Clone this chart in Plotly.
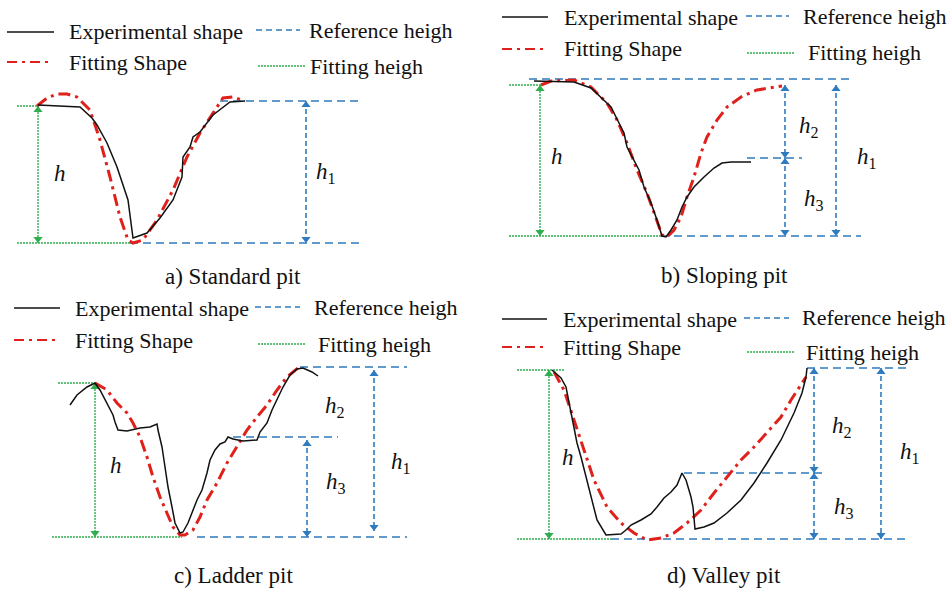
import plotly.graph_objects as go

W, H = 948, 591

# ---------------- data (local units: x along profile, y = height above pit bottom) -------------
# a) Standard pit
a_exp_x = [38, 60, 80, 92, 97, 107, 117, 128, 132, 133, 147, 160, 173, 182, 183, 190, 193, 200, 213, 220, 230, 245]
a_exp_y = [138, 137, 136, 125, 118, 100, 76, 43, 10, 5, 10, 25, 43, 66, 86, 96, 106, 111, 128, 133, 141, 142]
a_fit_x = [37, 47, 57, 67, 77, 90, 100, 110, 120, 128, 133, 143, 157, 173, 187, 200, 213, 223, 233, 245]
a_fit_y = [137, 145, 149, 149, 146, 133, 103, 66, 26, 3, 0, 3, 23, 53, 86, 110, 130, 145, 146, 142]

# b) Sloping pit
b_exp_x = [60, 100, 117, 127, 137, 147, 150, 153, 160, 165, 170, 177, 183, 188, 192, 197, 203, 208, 213, 220, 230, 240, 248, 257, 277]
b_exp_y = [155, 154, 148, 139, 129, 109, 103, 89, 76, 66, 49, 33, 16, 0, -1, 6, 16, 29, 39, 49, 59, 68, 73, 74, 74]
b_fit_x = [67, 77, 100, 117, 133, 143, 153, 163, 173, 182, 188, 193, 200, 207, 213, 220, 227, 233, 243, 253, 267, 283, 300, 308]
b_fit_y = [151, 155, 156, 149, 133, 116, 93, 66, 43, 19, 1, -1, 6, 19, 39, 59, 83, 99, 116, 129, 139, 146, 149, 150]

# c) Ladder pit
c_exp_x = [70, 77, 87, 95, 100, 107, 113, 115, 118, 127, 140, 150, 157, 158, 162, 165, 168, 172, 175, 180, 183, 188, 192, 197,
           202, 207, 210, 215, 220, 225, 228, 233, 243, 257, 260, 267, 272, 277, 283, 290, 297, 303, 312, 318]
c_exp_y = [132, 142, 150, 154, 147, 134, 122, 115, 107, 106, 109, 110, 113, 107, 90, 70, 50, 30, 14, 4, 5, 14, 24, 37,
           47, 64, 77, 87, 93, 95, 100, 98, 96, 97, 105, 114, 127, 137, 150, 162, 168, 169, 165, 161]
c_fit_x = [95, 107, 117, 127, 133, 140, 147, 153, 160, 167, 173, 180, 185, 193, 200, 207, 217, 227, 237, 247, 257, 267, 277, 287, 298]
c_fit_y = [154, 147, 134, 124, 114, 100, 80, 60, 40, 24, 10, 2, 2, 7, 20, 37, 54, 74, 90, 107, 120, 132, 147, 160, 169]

# d) Valley pit
d_exp_x = [78, 87, 92, 97, 100, 103, 107, 112, 117, 123, 132, 147, 152, 157, 167, 177, 183, 190, 197, 203, 208, 212, 217,
           219, 221, 230, 240, 253, 267, 280, 293, 307, 320, 328, 332, 333]
d_exp_y = [169, 161, 152, 126, 112, 96, 82, 62, 42, 19, 4, 5, 9, 14, 19, 25, 32, 41, 47, 54, 66, 59, 42,
           32, 10, 12, 16, 26, 39, 56, 76, 99, 126, 146, 162, 171]
d_fit_x = [80, 90, 100, 110, 120, 133, 147, 160, 173, 187, 200, 213, 227, 240, 253, 267, 280, 293, 307, 317, 325, 332]
d_fit_y = [167, 149, 119, 89, 59, 32, 16, 6, -1, 1, 6, 16, 29, 46, 62, 79, 92, 106, 122, 139, 152, 162]

# reference / fitting heights (local units)
panels = {
    "a": dict(exp=(a_exp_x, a_exp_y), fit=(a_fit_x, a_fit_y),
              h=137, h1=142, h3=None, caption="a) Standard pit"),
    "b": dict(exp=(b_exp_x, b_exp_y), fit=(b_fit_x, b_fit_y),
              h=151, h1=157, h3=78, caption="b) Sloping pit"),
    "c": dict(exp=(c_exp_x, c_exp_y), fit=(c_fit_x, c_fit_y),
              h=154, h1=170, h3=100, caption="c) Ladder pit"),
    "d": dict(exp=(d_exp_x, d_exp_y), fit=(d_fit_x, d_fit_y),
              h=169, h1=171, h3=66, caption="d) Valley pit"),
}

# ---------------- layout geometry (pixels) ----------------
geom = {  # quadrant left, top, height, baseline page-y
    "a": (0, 0, 290, 243),
    "b": (474, 0, 290, 236),
    "c": (0, 290, 301, 537),
    "d": (474, 290, 301, 539),
}
extents = {
    "a": dict(gtop=(17, 38), gbot=(17, 133), btop=(220, 362), bbot=(130, 362), bmid=None,
              garrow=38, arrows=[(306, 142, 0)], labels=[("h", 52, 70), ("h1", 314, 70)]),
    "b": dict(gtop=(35, 67), gbot=(35, 187), btop=(55, 377), bbot=(187, 387), bmid=(273, 328),
              garrow=66, arrows=[(311, 151, 78), (311, 78, 0), (362, 151, 0)],
              labels=[("h", 75, 80), ("h2", 323, 109), ("h3", 328, 36), ("h1", 381, 78)]),
    "c": dict(gtop=(58, 95), gbot=(52, 182), btop=(300, 407), bbot=(197, 407), bmid=(233, 338),
              garrow=95, arrows=[(307, 97, 0), (374, 167, 6)],
              labels=[("h", 108, 72), ("h2", 323, 130), ("h3", 324, 54), ("h1", 389, 74)]),
    "d": dict(gtop=(43, 90), gbot=(43, 137), btop=(333, 432), bbot=(137, 432), bmid=(210, 353),
              garrow=75, arrows=[(340, 171, 66), (340, 66, 0), (407, 171, 0)],
              labels=[("h", 86, 82), ("h2", 356, 112), ("h3", 358, 31), ("h1", 424, 86)]),
}
legend_pos = {
    "a": [((7, 54, 32), 67), ((256, 300, 30), 307), ((7, 53, 62), 67), ((258, 305, 66), 308)],
    "b": [((502, 548, 17), 562), ((746, 789, 16), 801), ((502, 548, 49), 562), ((747, 795, 53), 806)],
    "c": [((14, 60, 308), 73), ((255, 300, 307), 312), ((14, 60, 340), 73), ((258, 305, 344), 316)],
    "d": [((502, 547, 319), 561), ((744, 789, 318), 800), ((502, 547, 347), 561), ((747, 794, 352), 804)],
}
caption_pos = {"a": (233, 276), "b": (724, 275), "c": (233, 575), "d": (724, 575)}

BLACK = "#111111"
RED = "#e0201b"
BLUE = "#2e7bbf"
GREEN = "#2fae4e"
TXT = "#111111"
FONT = "Liberation Serif"
legend_names = ["Experimental shape", "Reference heigh", "Fitting Shape", "Fitting heigh"]
legend_styles = [(BLACK, "solid", 1.6), (BLUE, "6px,4px", 1.6), (RED, "10px,5px,3px,5px", 2.2), (GREEN, "2px,1px", 1.4)]

fig = go.Figure()
annotations = []
shapes = []

def px(x):
    return x / W

def py(y):
    return 1 - y / H

for i, key in enumerate(["a", "b", "c", "d"]):
    n = i + 1
    xa = "x" if n == 1 else f"x{n}"
    ya = "y" if n == 1 else f"y{n}"
    L, T, Hq, B = geom[key]
    p = panels[key]
    e = extents[key]
    axx = dict(domain=[px(L), px(L + 474)], range=[0, 474], visible=False, fixedrange=True)
    axy = dict(domain=[py(T + Hq), py(T)], range=[B - (T + Hq), B - T], visible=False, fixedrange=True)
    if n == 1:
        axx["anchor"] = "y"; axy["anchor"] = "x"
        fig.update_layout(xaxis=axx, yaxis=axy)
    else:
        axx["anchor"] = f"y{n}"; axy["anchor"] = f"x{n}"
        fig.update_layout(**{f"xaxis{n}": axx, f"yaxis{n}": axy})

    def line(xs, ys, color, dash, width):
        fig.add_trace(go.Scatter(x=xs, y=ys, mode="lines", xaxis=xa, yaxis=ya,
                                 line=dict(color=color, dash=dash, width=width),
                                 hoverinfo="skip", showlegend=False))

    line(list(e["gtop"]), [p["h"], p["h"]], GREEN, "2px,1px", 1.4)
    line(list(e["gbot"]), [0, 0], GREEN, "2px,1px", 1.4)
    line(list(e["btop"]), [p["h1"], p["h1"]], BLUE, "8px,5px", 1.6)
    line(list(e["bbot"]), [0, 0], BLUE, "8px,5px", 1.6)
    if e["bmid"] is not None:
        line(list(e["bmid"]), [p["h3"], p["h3"]], BLUE, "8px,5px", 1.6)
    gx = e["garrow"]
    line([gx, gx], [p["h"], 0], GREEN, "2px,1px", 1.4)
    fig.add_trace(go.Scatter(x=[gx, gx], y=[p["h"] - 4, 4], mode="markers", xaxis=xa, yaxis=ya,
                             marker=dict(symbol=["triangle-up", "triangle-down"], size=8, color=GREEN),
                             hoverinfo="skip", showlegend=False))
    for ax_, ytop, ybot in e["arrows"]:
        line([ax_, ax_], [ytop, ybot], BLUE, "5px,3px", 1.6)
        fig.add_trace(go.Scatter(x=[ax_, ax_], y=[ytop - 4, ybot + 4], mode="markers", xaxis=xa, yaxis=ya,
                                 marker=dict(symbol=["triangle-up", "triangle-down"], size=8, color=BLUE),
                                 hoverinfo="skip", showlegend=False))
    line(p["fit"][0], p["fit"][1], RED, "12px,5px,3px,5px", 3)
    line(p["exp"][0], p["exp"][1], BLACK, "solid", 1.5)

    for lab, lx, ly in e["labels"]:
        txt = "<i>h</i>" if lab == "h" else f"<i>h</i><sub>{lab[1]}</sub>"
        annotations.append(dict(x=lx, y=ly, xref=xa, yref=ya, text=txt, showarrow=False,
                                xanchor="left", yanchor="middle",
                                font=dict(family=FONT, size=23, color=TXT)))
    for (seg, tx), name, (col, dash, wd) in zip(legend_pos[key], legend_names, legend_styles):
        x0, x1, yy = seg
        shapes.append(dict(type="line", xref="paper", yref="paper", x0=px(x0), x1=px(x1), y0=py(yy), y1=py(yy),
                           line=dict(color=col, dash=dash, width=wd)))
        annotations.append(dict(x=px(tx), y=py(yy), xref="paper", yref="paper", text=name, showarrow=False,
                                xanchor="left", yanchor="middle",
                                font=dict(family=FONT, size=22, color=TXT)))
    cx, cy = caption_pos[key]
    annotations.append(dict(x=px(cx), y=py(cy), xref="paper", yref="paper", text=p["caption"], showarrow=False,
                            xanchor="center", yanchor="middle",
                            font=dict(family=FONT, size=23, color=TXT)))

fig.update_layout(width=W, height=H, margin=dict(l=0, r=0, t=0, b=0),
                  paper_bgcolor="white", plot_bgcolor="white",
                  font=dict(family=FONT),
                  annotations=annotations, shapes=shapes, showlegend=False)

fig.write_html("out.html", config={"displayModeBar": False})
